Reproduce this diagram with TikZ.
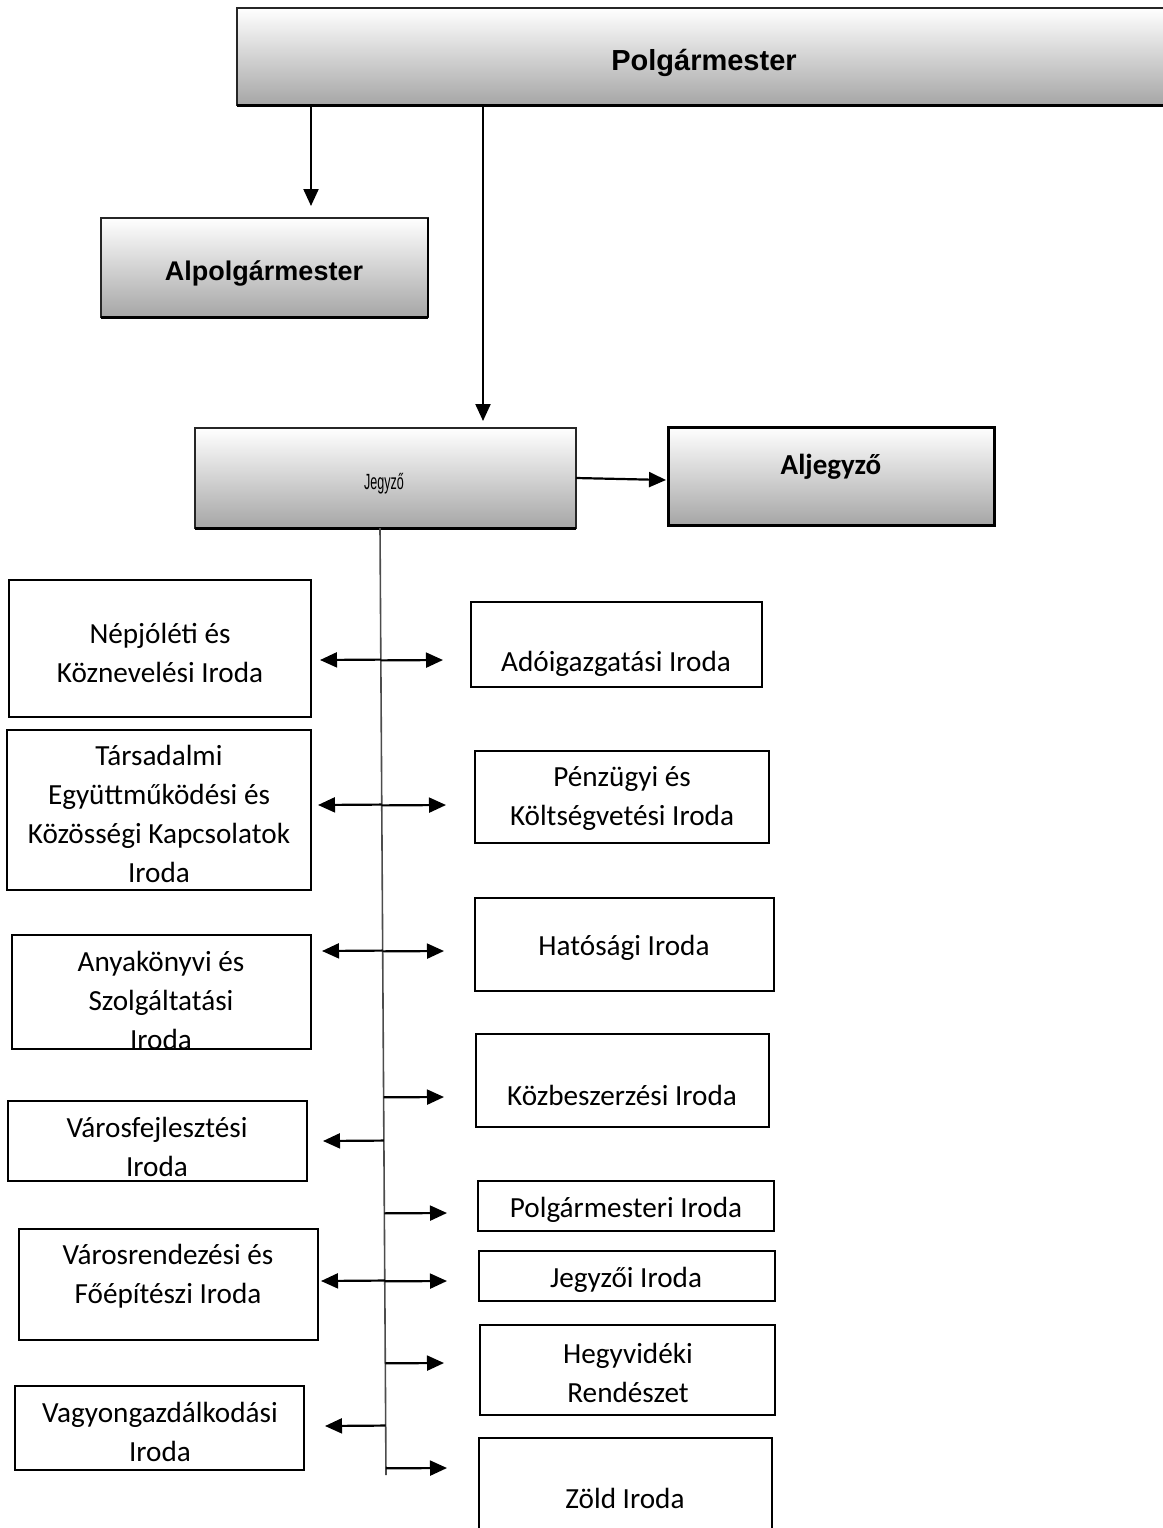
\documentclass[tikz,border=0pt]{standalone}
\usepackage{fontspec}
\setmainfont{Carlito}
\newfontfamily\arialfont{Liberation Sans}
\usetikzlibrary{arrows.meta,calc}
\definecolor{boxgray}{RGB}{166,166,166}
\tikzset{
  officebox/.style={draw=black, line width=2.2pt, minimum width=#1, inner sep=0pt, outer sep=0pt},
  shadedbox/.style={draw=black!85, line width=1.1pt, top color=white, bottom color=boxgray, inner sep=0pt, outer sep=0pt},
  lbl/.style={align=center, inner sep=0pt, font=\fontsize{29.2}{39}\selectfont},
  arr/.style={line width=2.2pt, -{Triangle[length=17pt,width=15pt]}},
  vline/.style={draw=black!70, line width=1.6pt},
  shadowline/.style={line width=3pt, black}
}
\begin{document}
\begin{tikzpicture}[x=1pt,y=-1pt]
\useasboundingbox (0,0) rectangle (1162,1528);

% top shaded boxes
\node[shadedbox, minimum width=934, minimum height=97] (P) at (704,56.5) {};
\draw[shadowline] (P.south west) -- (P.south east);
\node[font=\arialfont\bfseries\fontsize{29}{34}\selectfont] (Pt) at (704,63) {Polgármester};

\node[shadedbox, minimum width=327, minimum height=99] (AP) at (264.5,267.5) {};
\draw[shadowline] (AP.south west) -- (AP.south east);
\draw[line width=2pt] (AP.south east) -- (AP.north east);
\node[font=\arialfont\bfseries\fontsize{27}{32}\selectfont] (APt) at (264,273) {Alpolgármester};

\node[shadedbox, minimum width=381, minimum height=100] (J) at (385.5,478) {};
\draw[shadowline] (J.south west) -- (J.south east);
\node[font=\arialfont\fontsize{22}{26}\selectfont] (Jt) at (384,484) {\scalebox{0.57}[1]{Jegyző}};

\node[shadedbox, draw=black, line width=3pt, minimum width=326, minimum height=98] (AJ) at (831,476) {};
\node[font=\bfseries\fontsize{29}{34}\selectfont] (AJt) at (831,467) {Aljegyző};

% top arrows
\coordinate (a1) at (311,206);
\coordinate (a2) at (483,421);
\coordinate (a3) at (666,480);
\draw[arr] (P.south -| a1) -- (a1);
\draw[arr] (P.south -| a2) -- (a2);
\draw[arr] (J.east) -- (a3);

% main vertical line
\coordinate (vtop) at (380,530);
\coordinate (vbot) at (386,1475);
\draw[vline] (J.south -| vtop) -- (vbot);

% left boxes
\node[officebox=302, minimum height=137] (L1) at (160,648.5) {};
\node[lbl] (L1t) at (160,653) {Népjóléti és\\Köznevelési Iroda};
\node[officebox=304, minimum height=160] (L2) at (159,810) {};
\node[lbl] (L2t) at (159,814) {Társadalmi\\Együttműködési és\\Közösségi Kapcsolatok\\Iroda};
\node[officebox=299, minimum height=114] (L3) at (161.5,992) {};
\node[lbl] (L3t) at (161,1000) {Anyakönyvi és\\Szolgáltatási\\Iroda};
\node[officebox=299, minimum height=80] (L4) at (157.5,1141) {};
\node[lbl] (L4t) at (157,1146.5) {Városfejlesztési\\Iroda};
\node[officebox=299, minimum height=111] (L5) at (168.5,1284.5) {};
\node[lbl] (L5t) at (168,1276) {Városrendezési és\\Főépítészi Iroda};
\node[officebox=289, minimum height=84] (L6) at (159.5,1428) {};
\node[lbl] (L6t) at (160,1431.5) {Vagyongazdálkodási\\Iroda};

% right boxes
\node[officebox=291, minimum height=85] (R1) at (616.5,644.5) {};
\node[lbl] (R1t) at (616,664) {Adóigazgatási Iroda};
\node[officebox=294, minimum height=92] (R2) at (622,797) {};
\node[lbl] (R2t) at (622,798.5) {Pénzügyi és\\Költségvetési Iroda};
\node[officebox=299, minimum height=93] (R3) at (624.5,944.5) {};
\node[lbl] (R3t) at (624,948) {Hatósági Iroda};
\node[officebox=293, minimum height=93] (R4) at (622.5,1080.5) {};
\node[lbl] (R4t) at (622,1095) {Közbeszerzési Iroda};
\node[officebox=296, minimum height=50] (R5) at (626,1206) {};
\node[lbl] (R5t) at (626,1210) {Polgármesteri Iroda};
\node[officebox=296, minimum height=50] (R6) at (627,1276) {};
\node[lbl] (R6t) at (626,1280) {Jegyzői Iroda};
\node[officebox=295, minimum height=90] (R7) at (627.5,1370) {};
\node[lbl] (R7t) at (628,1373) {Hegyvidéki\\Rendészet};
\node[officebox=293, minimum height=97] (R8) at (625.5,1486.5) {};
\node[lbl] (R8t) at (625,1498) {Zöld Iroda};

% branch arrows: left tips
\foreach \n/\x/\y in {l1/320/660, l2/318/805, l3/322/951, l4/323/1141, l5/321/1281, l6/325/1426}{
  \coordinate (\n) at (\x,\y);
  \draw[arr] ($(vtop)!(\n)!(vbot)$) -- (\n);
}
% branch arrows: right tips
\foreach \n/\x/\y in {r1/443/660, r2/446/805, r3/444/951, r4/444/1097, r5/447/1213, r6/447/1281, r7/444/1363, r8/447/1468}{
  \coordinate (\n) at (\x,\y);
  \draw[arr] ($(vtop)!(\n)!(vbot)$) -- (\n);
}
\end{tikzpicture}
\end{document}
